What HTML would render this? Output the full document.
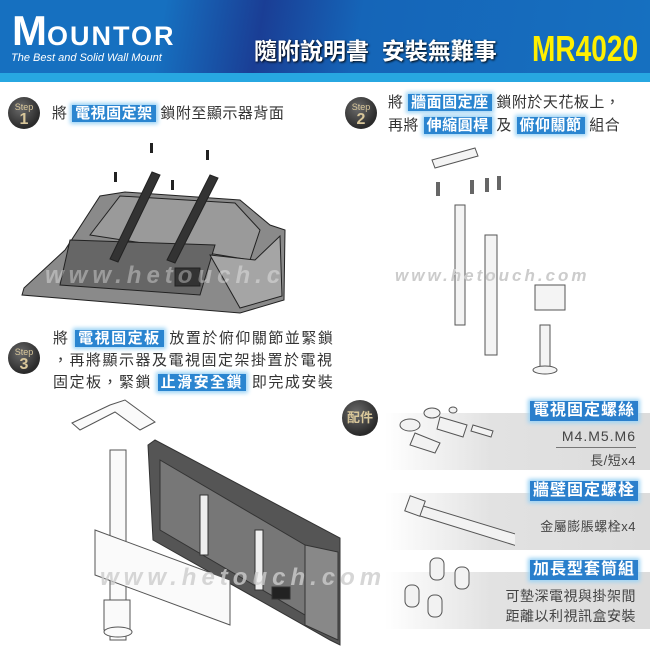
<!DOCTYPE html>
<html><head><meta charset="utf-8"><style>
*{margin:0;padding:0;box-sizing:border-box}
body{width:650px;height:650px;overflow:hidden;background:#fff;position:relative;font-family:"Liberation Sans","Noto Sans CJK TC",sans-serif}
.abs{position:absolute}
.hdr{left:0;top:0;width:650px;height:73px;background:linear-gradient(100deg,#1670c0 0%,#1670c0 25%,#1a3e95 40%,#1565b8 55%,#1670c0 100%)}
.stripe{left:0;top:73px;width:650px;height:9px;background:#27a7e1}
.step{width:32px;height:32px;border-radius:50%;background:radial-gradient(circle at 40% 35%,#6a6a6a,#2a2a2a 70%);color:#d9c79a;text-align:center;font-size:9px;line-height:10px;padding-top:5px}
.step b{display:block;font-size:16px;line-height:15px}
.t{font-size:15px;color:#333;line-height:20px;white-space:nowrap;letter-spacing:0.5px}
.hl{background:#2a85d0;color:#fff;font-weight:bold;padding:0 3px;box-shadow:0 0 4px 2px #9cd3f5}
.band{left:385px;width:265px;background:linear-gradient(90deg,rgba(255,255,255,1),#e2e2e2 40%,#dcdcdc)}
.lab{right:12px;background:#2a7fcc;color:#fff;font-weight:bold;font-size:16px;padding:0 3px;box-shadow:0 0 4px 2px #9cd3f5;line-height:20px;letter-spacing:1px}
.small{font-size:13px;color:#444;right:14px;white-space:nowrap;letter-spacing:0.5px}
</style></head><body>
<div class="abs hdr"></div>
<div class="abs stripe"></div>
<div class="abs" style="left:12px;top:10px;font-size:42px;font-weight:bold;color:#fff;line-height:42px;white-space:nowrap">M<span style="font-size:27px;letter-spacing:2px">OUNTOR</span></div>
<div class="abs" style="left:11px;top:52px;font-size:11px;font-style:italic;color:#fff">The Best and Solid Wall Mount</div>
<div class="abs" style="left:254px;top:37px;font-size:23px;font-weight:bold;color:#fff;text-shadow:1px 1px 2px #000;white-space:nowrap;line-height:28px">隨附說明書&nbsp;&nbsp;安裝無難事</div>
<div class="abs" style="left:532px;top:30px;font-size:36px;font-weight:bold;color:#ffef00;line-height:38px;transform:scaleX(0.78);transform-origin:left;white-space:nowrap">MR4020</div>

<div class="abs step" style="left:8px;top:97px">Step<b>1</b></div>
<div class="abs t" style="left:52px;top:104px">將 <span class="hl">電視固定架</span> 鎖附至顯示器背面</div>
<div class="abs step" style="left:345px;top:97px">Step<b>2</b></div>
<div class="abs t" style="left:388px;top:93px">將 <span class="hl">牆面固定座</span> 鎖附於天花板上，</div>
<div class="abs t" style="left:388px;top:116px">再將 <span class="hl">伸縮圓桿</span> 及 <span class="hl">俯仰關節</span> 組合</div>
<div class="abs step" style="left:8px;top:342px">Step<b>3</b></div>
<div class="abs t" style="left:53px;top:329px;letter-spacing:1.5px">將 <span class="hl">電視固定板</span> 放置於俯仰關節並緊鎖</div>
<div class="abs t" style="left:53px;top:351px;letter-spacing:1.5px">，再將顯示器及電視固定架掛置於電視</div>
<div class="abs t" style="left:53px;top:373px;letter-spacing:1.5px">固定板，緊鎖 <span class="hl">止滑安全鎖</span> 即完成安裝</div>

<svg class="abs" style="left:0;top:0" width="650" height="650">
<g stroke="#222" stroke-width="1">
<polygon points="24,288 65,250 100,196 125,192 240,200 270,225 285,230 284,300 240,313 22,295" fill="#8a8a8a"/>
<polygon points="120,196 235,203 260,230 250,260 220,255 90,235" fill="#9a9a9a"/>
<polygon points="70,240 215,245 200,295 60,285" fill="#666"/>
<polygon points="210,255 255,260 280,236 282,296 240,308" fill="#a5a5a5"/>
<rect x="175" y="268" width="25" height="18" fill="#333"/>
<polygon points="152,172 160,175 118,262 110,259" fill="#333"/>
<polygon points="210,175 218,178 175,263 167,260" fill="#333"/>
</g>
<g fill="#222"><rect x="150" y="143" width="3" height="10"/><rect x="206" y="150" width="3" height="10"/><rect x="114" y="172" width="3" height="10"/><rect x="171" y="180" width="3" height="10"/></g>
<text x="45" y="283" font-size="24" font-weight="bold" font-style="italic" fill="#fff" fill-opacity="0.35" font-family="Liberation Sans" letter-spacing="5">www.hetouch.com</text>
<g stroke="#555" fill="#f4f4f4" stroke-width="1">
<polygon points="432,160 475,148 478,156 435,168"/>
<rect x="455" y="205" width="10" height="120"/>
<rect x="485" y="235" width="12" height="120"/>
<rect x="540" y="325" width="10" height="45"/>
<rect x="535" y="285" width="30" height="25"/>
<ellipse cx="545" cy="370" rx="12" ry="4"/>
</g>
<g fill="#666"><rect x="436" y="182" width="4" height="14"/><rect x="470" y="180" width="4" height="14"/><rect x="485" y="178" width="4" height="14"/><rect x="497" y="176" width="4" height="14"/></g>
<text x="395" y="281" font-size="17" font-weight="bold" font-style="italic" fill="#ccc" font-family="Liberation Sans" letter-spacing="3">www.hetouch.com</text>
<g stroke="#333" stroke-width="1">
<polygon points="148,445 155,440 340,538 340,645 330,640 153,540" fill="#555"/>
<polygon points="160,460 305,545 305,615 160,530" fill="#777"/>
<polygon points="305,545 338,552 338,640 305,625" fill="#888"/>
<rect x="200" y="495" width="8" height="60" fill="#eee"/>
<rect x="255" y="530" width="8" height="60" fill="#eee"/>
<rect x="272" y="587" width="18" height="12" fill="#222"/>
</g>
<g stroke="#555" fill="#fafafa">
<polygon points="72,423 110,405 125,400 155,422 140,430 115,412 80,430"/>
<rect x="110" y="450" width="16" height="190"/>
<polygon points="95,530 230,580 230,625 95,575"/>
<rect x="104" y="600" width="26" height="30"/>
<ellipse cx="118" cy="632" rx="14" ry="5"/>
</g>
<text x="100" y="585" font-size="24" font-weight="bold" font-style="italic" fill="#ccc" fill-opacity="0.8" font-family="Liberation Sans" letter-spacing="5">www.hetouch.com</text>
</svg>

<div class="abs band" style="top:413px;height:57px"></div>
<div class="abs band" style="top:493px;height:57px"></div>
<div class="abs band" style="top:572px;height:57px"></div>
<div class="abs" style="left:342px;top:400px;width:36px;height:36px;border-radius:50%;background:radial-gradient(circle at 40% 35%,#6a6a6a,#2a2a2a 70%);color:#d9c79a;font-weight:bold;font-size:13px;line-height:36px;text-align:center">配件</div>
<div class="abs lab" style="top:401px">電視固定螺絲</div>
<div class="abs small" style="top:428px;font-size:14px;letter-spacing:1px">M4.M5.M6</div>
<div class="abs" style="left:556px;top:447px;width:80px;height:1px;background:#777"></div>
<div class="abs small" style="top:450px">長/短x4</div>
<div class="abs lab" style="top:481px">牆壁固定螺栓</div>
<div class="abs small" style="top:516px">金屬膨脹螺栓x4</div>
<div class="abs lab" style="top:560px">加長型套筒組</div>
<div class="abs small" style="top:586px;font-size:14px">可墊深電視與掛架間</div>
<div class="abs small" style="top:606px;font-size:14px">距離以利視訊盒安裝</div>
<svg class="abs" style="left:385px;top:395px" width="130" height="240">
<g stroke="#555" fill="#f2f2f2">
<ellipse cx="25" cy="30" rx="10" ry="6"/><ellipse cx="47" cy="18" rx="8" ry="5"/><ellipse cx="68" cy="15" rx="4" ry="3"/>
<polygon points="55,22 82,30 78,42 52,34"/><polygon points="30,38 55,48 50,58 25,50"/><polygon points="88,30 108,36 106,42 86,36"/>
<polygon points="35,110 150,145 145,155 32,120"/><rect x="22" y="103" width="16" height="16" transform="rotate(20 30 111)"/>
<rect x="45" y="163" width="14" height="22" rx="6"/><rect x="70" y="172" width="14" height="22" rx="6"/><rect x="20" y="190" width="14" height="22" rx="6"/><rect x="43" y="200" width="14" height="22" rx="6"/>
</g></svg>
</body></html>
